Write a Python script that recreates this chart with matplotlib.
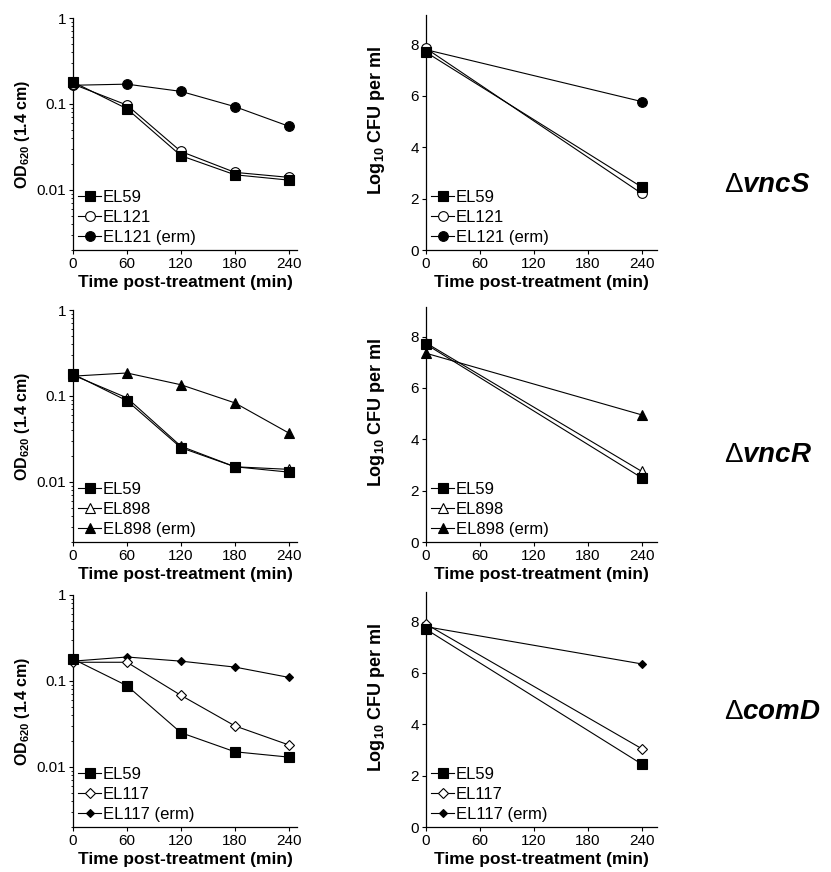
import matplotlib
matplotlib.use("Agg")
import matplotlib.pyplot as plt
from matplotlib.ticker import FixedLocator, FuncFormatter, LogLocator, NullFormatter

plt.rcParams["font.family"] = ["Liberation Sans", "DejaVu Sans"]
plt.rcParams["mathtext.fontset"] = "custom"
plt.rcParams["mathtext.rm"] = "Liberation Sans"
plt.rcParams["mathtext.bf"] = "Liberation Sans:bold"
plt.rcParams["mathtext.it"] = "Liberation Sans:italic:bold"

# time points (min)
time_od = [0, 60, 120, 180, 240]
time_cfu = [0, 240]

# mutants (rows)
mutants = ["vncS", "vncR", "comD"]
strain_names = [
    ["EL59", "EL121", "EL121 (erm)"],
    ["EL59", "EL898", "EL898 (erm)"],
    ["EL59", "EL117", "EL117 (erm)"],
]

# OD620 values, one list per strain
od_vncS = [
    [0.18, 0.088, 0.025, 0.015, 0.013],
    [0.17, 0.097, 0.028, 0.016, 0.014],
    [0.165, 0.17, 0.14, 0.093, 0.055],
]
od_vncR = [
    [0.18, 0.088, 0.025, 0.015, 0.013],
    [0.175, 0.095, 0.026, 0.015, 0.014],
    [0.17, 0.185, 0.135, 0.083, 0.037],
]
od_comD = [
    [0.18, 0.088, 0.025, 0.015, 0.013],
    [0.165, 0.165, 0.068, 0.030, 0.018],
    [0.17, 0.19, 0.17, 0.145, 0.11],
]

# log10 CFU per ml
cfu_vncS = [[7.7, 2.45], [7.85, 2.2], [7.8, 5.78]]
cfu_vncR = [[7.7, 2.5], [7.75, 2.75], [7.35, 4.95]]
cfu_comD = [[7.7, 2.45], [7.9, 3.05], [7.8, 6.35]]

od_all = [od_vncS, od_vncR, od_comD]
cfu_all = [cfu_vncS, cfu_vncR, cfu_comD]

# marker styles per row: (EL59, mutant, mutant erm)
styles = [
    [("s", "black", 7), ("o", "white", 7), ("o", "black", 7)],
    [("s", "black", 7), ("^", "white", 6.5), ("^", "black", 6.5)],
    [("s", "black", 7), ("D", "white", 5), ("D", "black", 4.5)],
]

W, H = 831, 872
fig = plt.figure(figsize=(W / 100, H / 100), dpi=100)


def px_axes(x0, y0, x1, y1):
    return fig.add_axes([x0 / W, 1 - y1 / H, (x1 - x0) / W, (y1 - y0) / H])


def style_axes(ax):
    for s in ["top", "right"]:
        ax.spines[s].set_visible(False)
    for s in ["left", "bottom"]:
        ax.spines[s].set_linewidth(0.9)
    ax.tick_params(which="major", direction="out", length=3, width=0.8,
                   labelsize=11, pad=2)
    ax.tick_params(which="minor", direction="out", length=1.5, width=0.6)
    ax.set_xticks([0, 60, 120, 180, 240])
    ax.set_xlabel("Time post-treatment (min)", fontsize=12.5, fontweight="bold",
                  labelpad=3)


def add_legend(ax):
    ax.legend(loc="lower left", bbox_to_anchor=(0.0, 0.0), frameon=False,
              fontsize=12, handlelength=1.4, handletextpad=0.1,
              labelspacing=0.3, borderaxespad=0.3, borderpad=0.0)


row_tops = [18, 310, 595]
row_bots = [250, 542, 827]

for r in range(3):
    # OD panel
    ax = px_axes(73, row_tops[r], 297, row_bots[r])
    ax.set_yscale("log")
    for i in range(3):
        m, fc, ms = styles[r][i]
        ax.plot(time_od, od_all[r][i], color="black", lw=0.8, marker=m,
                markerfacecolor=fc, markeredgecolor="black", markersize=ms,
                markeredgewidth=0.8, clip_on=False, label=strain_names[r][i],
                zorder=3 + (2 - i))
    ax.set_xlim(0, 249)
    ax.set_ylim(0.002, 1)
    ax.yaxis.set_major_locator(FixedLocator([0.01, 0.1, 1]))
    ax.yaxis.set_major_formatter(FuncFormatter(lambda v, p: "%g" % v))
    ax.yaxis.set_minor_locator(LogLocator(base=10, subs=range(2, 10)))
    ax.yaxis.set_minor_formatter(NullFormatter())
    style_axes(ax)
    ax.set_ylabel(r"OD$_{\mathbf{620}}$ (1.4 cm)", fontsize=11.5,
                  fontweight="bold", labelpad=3)
    add_legend(ax)

    # CFU panel
    ax2 = px_axes(426, row_tops[r] - 3, 657, row_bots[r])
    for i in range(3):
        m, fc, ms = styles[r][i]
        ax2.plot(time_cfu, cfu_all[r][i], color="black", lw=0.8, marker=m,
                 markerfacecolor=fc, markeredgecolor="black", markersize=ms,
                 markeredgewidth=0.8, clip_on=False, label=strain_names[r][i],
                 zorder=3 + (2 - i))
    ax2.set_xlim(0, 257)
    ax2.set_ylim(0, 9.15)
    ax2.set_yticks([0, 2, 4, 6, 8])
    style_axes(ax2)
    ax2.set_ylabel(r"Log$_{\mathbf{10}}$ CFU per ml", fontsize=13,
                   fontweight="bold")
    ax2.yaxis.set_label_coords(-0.17, 0.55)
    add_legend(ax2)

# mutant labels on the right
label_y = [185, 455, 712]
for r in range(3):
    fig.text(724 / W, 1 - label_y[r] / H,
             r"$\Delta\mathit{" + mutants[r] + r"}$",
             fontsize=20, va="center", ha="left")

fig.savefig("out.png", dpi=100)
